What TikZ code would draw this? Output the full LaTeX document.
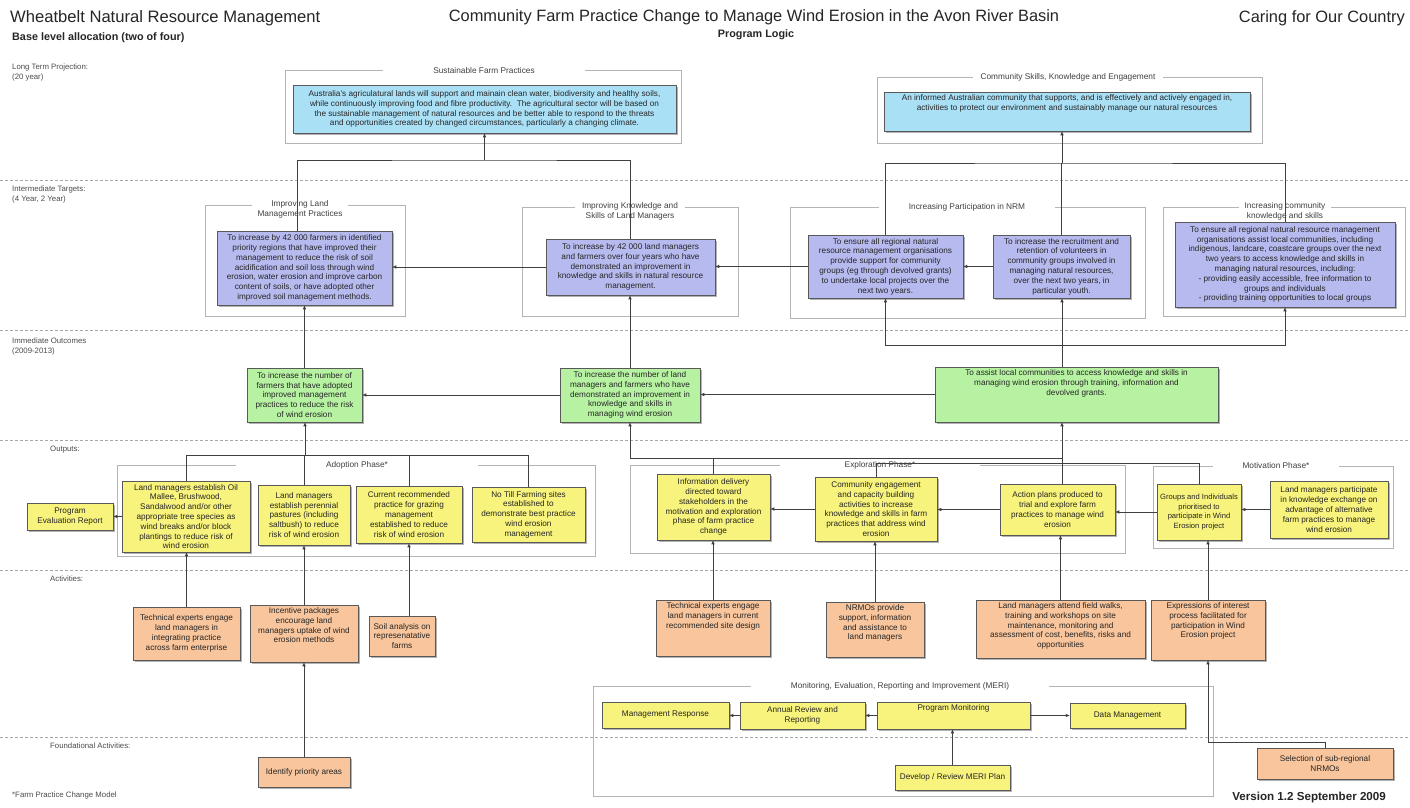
\documentclass[tikz,border=0pt]{standalone}
\usepackage{fontspec}
\setmainfont{Liberation Sans}
\usetikzlibrary{arrows.meta,shadows,calc}
\definecolor{cBlue}{HTML}{AAE0F6}
\definecolor{cPurple}{HTML}{B7BAEE}
\definecolor{cGreen}{HTML}{B6F2A2}
\definecolor{cYellow}{HTML}{F8F37C}
\definecolor{cOrange}{HTML}{F8C59C}
\definecolor{cFrame}{HTML}{B4B4B4}
\definecolor{cLine}{HTML}{404040}
\newcommand{\bfnt}{\fontsize{8.2}{9.8}\selectfont}
\begin{document}
\begin{tikzpicture}[x=1pt,y=-1pt,
  box/.style={draw=black!65, line width=0.5pt, align=center, inner sep=1pt, font=\bfnt, text=black!85,
     drop shadow={shadow xshift=1.8pt, shadow yshift=-1.8pt, opacity=0.5, fill=black!60}},
  bluebox/.style={box, fill=cBlue},
  purplebox/.style={box, fill=cPurple},
  greenbox/.style={box, fill=cGreen},
  yellowbox/.style={box, fill=cYellow},
  orangebox/.style={box, fill=cOrange},
  toptext/.style={label={[font=\bfnt, align=center, anchor=north, inner sep=2.5pt, text=black!85]north:{#1}}},
  frame/.style={draw=cFrame, line width=0.8pt},
  ftitle/.style={fill=white, inner xsep=#1, inner ysep=1pt, font=\fontsize{8.3}{9.6}\selectfont, text=black!75, align=center},
  ftitle/.default=30pt,
  sep/.style={draw=black!35, line width=0.8pt, dash pattern=on 3pt off 2pt},
  rowlbl/.style={anchor=north west, font=\fontsize{7.8}{9.2}\selectfont, text=black!70, align=left, inner sep=0pt},
  ln/.style={draw=cLine, line width=0.6pt},
  arr/.style={ln, -{Latex[length=4pt,width=3.6pt]}}
]
\fill[white] (0,0) rectangle (1410,807);
\useasboundingbox (0,0) rectangle (1410,807);

% header
\node[anchor=west, font=\fontsize{16.6}{19}\selectfont, text=black!85, inner sep=0pt] (h1) at (10,18) {Wheatbelt Natural Resource Management};
\node[anchor=west, font=\fontsize{10.8}{12}\selectfont\bfseries, text=black!85, inner sep=0pt] (h2) at (12,38) {Base level allocation (two of four)};
\node[font=\fontsize{16.4}{19}\selectfont, text=black!85, inner sep=0pt] (h3) at (754,17) {Community Farm Practice Change to Manage Wind Erosion in the Avon River Basin};
\node[font=\fontsize{10.8}{12}\selectfont\bfseries, text=black!85, inner sep=0pt] (h4) at (756,35) {Program Logic};
\node[anchor=east, font=\fontsize{16.4}{19}\selectfont, text=black!85, inner sep=0pt] (h5) at (1405,18) {Caring for Our Country};
\node[anchor=east, font=\fontsize{11.6}{13}\selectfont\bfseries, text=black!85, inner sep=0pt] (h6) at (1386,797) {Version 1.2 September 2009};
\node[anchor=west, font=\fontsize{7.8}{9}\selectfont, text=black!70, inner sep=0pt] (h7) at (12,795) {*Farm Practice Change Model};

% row separators and labels
\foreach \yy in {180,330,440,570,737} \draw[sep] (0,\yy) -- (1410,\yy);
\node[rowlbl] (r1) at (12,64) {Long Term Projection:\\(20 year)};
\node[rowlbl] (r2) at (12,186) {Intermediate Targets:\\(4 Year, 2 Year)};
\node[rowlbl] (r3) at (12,338) {Immediate Outcomes\\(2009-2013)};
\node[rowlbl] (r4) at (50,446) {Outputs:};
\node[rowlbl] (r5) at (50,576) {Activities:};
\node[rowlbl] (r6) at (50,743) {Foundational Activities:};

% frames
\draw[frame] (285,70) rectangle (681,143);
\node[ftitle=50pt] (fSFP) at (484,71) {Sustainable Farm Practices};
\draw[frame] (877,77) rectangle (1262,143);
\node[ftitle=8pt] (fCSK) at (1068,77) {Community Skills, Knowledge and Engagement};
\draw[frame] (205,205) rectangle (405,316);
\node[ftitle=6pt, anchor=north] (fLand) at (300,199.5) {Improving Land\\Management Practices};
\draw[frame] (522,207) rectangle (738,316);
\node[ftitle=7pt, anchor=north] (fKnow) at (630,201.5) {Improving Knowledge and\\Skills of Land Managers};
\draw[frame] (790,207) rectangle (1145,318);
\node[ftitle=30pt] (fPart) at (967,207) {Increasing Participation in NRM};
\draw[frame] (1163,207) rectangle (1405,316);
\node[ftitle=6pt, anchor=north] (fCK) at (1285,201.5) {Increasing community\\knowledge and skills};
\draw[frame] (117,465) rectangle (595,556);
\node[ftitle=90pt] (fAdopt) at (357,465) {Adoption Phase*};
\draw[frame] (630,465) rectangle (1125,553);
\node[ftitle=65pt] (fExpl) at (880,465) {Exploration Phase*};
\draw[frame] (1153,466) rectangle (1393,548);
\node[ftitle=30pt] (fMot) at (1276,466) {Motivation Phase*};
\draw[frame] (593,686) rectangle (1213,796);
\node[ftitle=40pt] (fMERI) at (900,686) {Monitoring, Evaluation, Reporting and Improvement (MERI)};

% junction coordinates
\coordinate (j1) at (484.5,160);
\coordinate (j2) at (1062,163);
\coordinate (j3) at (1062,345);
\coordinate (j4) at (305,455);
\coordinate (j5) at (630,458);
\coordinate (j6) at (1062,458);
\coordinate (j7) at (1062,463);
\coordinate (j8) at (1208,742);

% long term
\node[bluebox, minimum width=383, minimum height=48] (SFP) at (484.5,109) {Australia's agriculatural lands will support and mainain clean water, biodiversity and healthy soils,\\while continuously improving food and fibre productivity.\ \ The agricultural sector will be based on\\the sustainable management of natural resources and be better able to respond to the threats\\and opportunities created by changed circumstances, particularly a changing climate.};
\node[bluebox, minimum width=366, minimum height=39, toptext={An informed Australian community that supports, and is effectively and actively engaged in,\\activities to protect our environment and sustainably manage our natural resources}] (CSK) at (1067,111.5) {};

% intermediate
\node[purplebox, minimum width=175, minimum height=74] (Land) at (304.5,268) {To increase by 42 000 farmers in identified\\priority regions that have improved their\\management to reduce the risk of soil\\acidification and soil loss through wind\\erosion, water erosion and improve carbon\\content of soils, or have adopted other\\improved soil management methods.};
\node[purplebox, minimum width=169, minimum height=56] (Know) at (630.5,267) {To increase by 42 000 land managers\\and farmers over four years who have\\demonstrated an improvement in\\knowledge and skills in natural resource\\management.};
\node[purplebox, minimum width=155, minimum height=63] (PA) at (885.5,266.5) {To ensure all regional natural\\resource management organisations\\provide support for community\\groups (eg through devolved grants)\\to undertake local projects over the\\next two years.};
\node[purplebox, minimum width=137, minimum height=63] (PB) at (1061.5,266.5) {To increase the recruitment and\\retention of volunteers in\\community groups involved in\\managing natural resources,\\over the next two years, in\\particular youth.};
\node[purplebox, minimum width=220, minimum height=85] (CK) at (1285,264.5) {To ensure all regional natural resource management\\organisations assist local communities, including\\indigenous, landcare, coastcare groups over the next\\two years to access knowledge and skills in\\managing natural resources, including:\\- providing easily accessible, free information to\\groups and individuals\\- providing training opportunities to local groups};

% immediate outcomes
\node[greenbox, minimum width=115, minimum height=54] (G1) at (304.5,395) {To increase the number of\\farmers that have adopted\\improved management\\practices to reduce the risk\\of wind erosion};
\node[greenbox, minimum width=140, minimum height=54] (G2) at (630,395) {To increase the number of land\\managers and farmers who have\\demonstrated an improvement in\\knowledge and skills in\\managing wind erosion};
\node[greenbox, minimum width=283, minimum height=55, toptext={To assist local communities to access knowledge and skills in\\managing wind erosion through training, information and\\devolved grants.}] (G3) at (1076.5,394.5) {};

% outputs
\node[yellowbox, minimum width=86, minimum height=27] (PER) at (70,516.5) {Program\\Evaluation Report};
\node[yellowbox, minimum width=128, minimum height=71] (Y1) at (186,516.5) {Land managers establish Oil\\Mallee, Brushwood,\\Sandalwood and/or other\\appropriate tree species as\\wind breaks and/or block\\plantings to reduce risk of\\wind erosion};
\node[yellowbox, minimum width=92, minimum height=60] (Y2) at (304,515) {Land managers\\establish perennial\\pastures (including\\saltbush) to reduce\\risk of wind erosion};
\node[yellowbox, minimum width=106, minimum height=57] (Y3) at (409,514.5) {Current recommended\\practice for grazing\\management\\established to reduce\\risk of wind erosion};
\node[yellowbox, minimum width=113, minimum height=55] (Y4) at (528.5,514.5) {No Till Farming sites\\established to\\demonstrate best practice\\wind erosion\\management};
\node[yellowbox, minimum width=113, minimum height=66] (E1) at (713.5,507) {Information delivery\\directed toward\\stakeholders in the\\motivation and exploration\\phase of farm practice\\change};
\node[yellowbox, minimum width=122, minimum height=64] (E2) at (876,509) {Community engagement\\and capacity building\\activities to increase\\knowledge and skills in farm\\practices that address wind\\erosion};
\node[yellowbox, minimum width=115, minimum height=51] (E3) at (1057.5,509.5) {Action plans produced to\\trial and explore farm\\practices to manage wind\\erosion};
\node[yellowbox, minimum width=84, minimum height=56, font=\fontsize{7.6}{9.4}\selectfont] (M1) at (1199,512) {Groups and Individuals\\prioritised to\\participate in Wind\\Erosion project};
\node[yellowbox, minimum width=118, minimum height=57] (M2) at (1329,509.5) {Land managers participate\\in knowledge exchange on\\advantage of alternative\\farm practices to manage\\wind erosion};

% activities
\node[orangebox, minimum width=107, minimum height=53] (A1) at (186.5,633.5) {Technical experts engage\\land managers in\\integrating practice\\across farm enterprise};
\node[orangebox, minimum width=108, minimum height=57, toptext={Incentive packages\\encourage land\\managers uptake of wind\\erosion methods}] (A2) at (304,633.5) {};
\node[orangebox, minimum width=66, minimum height=40] (A3) at (402,636) {Soil analysis on\\represenatative\\farms};
\node[orangebox, minimum width=114, minimum height=56, toptext={Technical experts engage\\land managers in current\\recommended site design}] (A4) at (713,628) {};
\node[orangebox, minimum width=98, minimum height=55, toptext={NRMOs provide\\support, information\\and assistance to\\land managers}] (A5) at (875,629.5) {};
\node[orangebox, minimum width=169, minimum height=58, toptext={Land managers attend field walks,\\training and workshops on site\\maintenance, monitoring and\\assessment of cost, benefits, risks and\\opportunities}] (A6) at (1060.5,629) {};
\node[orangebox, minimum width=114, minimum height=60, toptext={Expressions of interest\\process facilitated for\\participation in Wind\\Erosion project}] (A7) at (1208,630) {};

% foundational
\node[orangebox, minimum width=92, minimum height=30] (F1) at (304,772) {Identify priority areas};
\node[orangebox, minimum width=136, minimum height=31] (F2) at (1325,763.5) {Selection of sub-regional\\NRMOs};

% MERI
\node[yellowbox, minimum width=127, minimum height=26] (MR) at (665.5,715) {Management Response};
\node[yellowbox, minimum width=125, minimum height=27] (AR) at (802.5,715.5) {Annual Review and\\Reporting};
\node[yellowbox, minimum width=153, minimum height=27, toptext={Program Monitoring}] (PM) at (953.5,715.5) {};
\node[yellowbox, minimum width=115, minimum height=25] (DM) at (1127.5,715.5) {Data Management};
\node[yellowbox, minimum width=115, minimum height=25] (DR) at (952.5,777.5) {Develop / Review MERI Plan};

% connectors: intermediate to long term
\draw[ln] ([xshift=-7pt]Land.north) |- (j1) -| (Know.north);
\draw[arr] (j1) -- (SFP.south);
\draw[ln] (PA.north) |- (j2) -| (CK.north);
\draw[ln] (PB.north) -- (PB.north |- j2);
\draw[arr] (j2) -- (j2 |- CSK.south);
\draw[arr] (PB.west) -- (PA.east);
\draw[arr] (PA.west) -- (PA.west -| Know.east);
\draw[arr] (Know.west) -- (Know.west -| Land.east);

% immediate to intermediate
\draw[arr] (G1.north) -- (G1.north |- Land.south);
\draw[arr] (G2.north) -- (G2.north |- Know.south);
\draw[ln] (j3 |- G3.north) -- (j3);
\draw[arr] (j3) -| (PA.south);
\draw[arr] (j3) -| (CK.south);
\draw[arr] (j3) -- (j3 |- PB.south);
\draw[arr] (G3.west) -- (G3.west -| G2.east);
\draw[arr] (G2.west) -- (G1.east);

% outputs to immediate
\draw[ln] (Y1.north) |- (j4) -| (Y4.north);
\draw[ln] (Y3.north) -- (Y3.north |- j4);
\draw[ln] (Y2.north) -- (Y2.north |- j4);
\draw[arr] (j4) -- (j4 |- G1.south);
\draw[arr] (E1.north) |- (j5) -- (j5 |- G2.south);
\draw[ln] (j5) -- (j6);
\draw[arr] (E3.north -| j6) -- (j6 |- G3.south);
\draw[ln] (E2.north) |- (j7) -| (M1.north);

% outputs horizontal
\draw[arr] (Y1.west) -- (Y1.west -| PER.east);
\draw[arr] (M2.west) -- (M2.west -| M1.east);
\draw[arr] (M1.west) -- (M1.west -| E3.east);
\draw[arr] (E3.west) -- (E3.west -| E2.east);
\draw[arr] (E2.west) -- (E2.west -| E1.east);

% activities to outputs
\draw[arr] (A1.north) -- (A1.north |- Y1.south);
\draw[arr] (A2.north) -- (A2.north |- Y2.south);
\draw[arr] (A3.north -| Y3.south) -- (Y3.south);
\draw[arr] (A4.north) -- (A4.north |- E1.south);
\draw[arr] (A5.north) -- (A5.north |- E2.south);
\draw[arr] (A6.north) -- (A6.north |- E3.south);
\draw[arr] (A7.north) -- (A7.north |- M1.south);

% foundational
\draw[arr] (F1.north) -- (F1.north |- A2.south);
\draw[arr] (F2.north) |- (j8) -- (A7.south);

% MERI
\draw[arr] (PM.east) -- (PM.east -| DM.west);
\draw[arr] (PM.west) -- (PM.west -| AR.east);
\draw[arr] (AR.west) -- (AR.west -| MR.east);
\draw[arr] (DR.north) -- (DR.north |- PM.south);
\end{tikzpicture}
\end{document}
